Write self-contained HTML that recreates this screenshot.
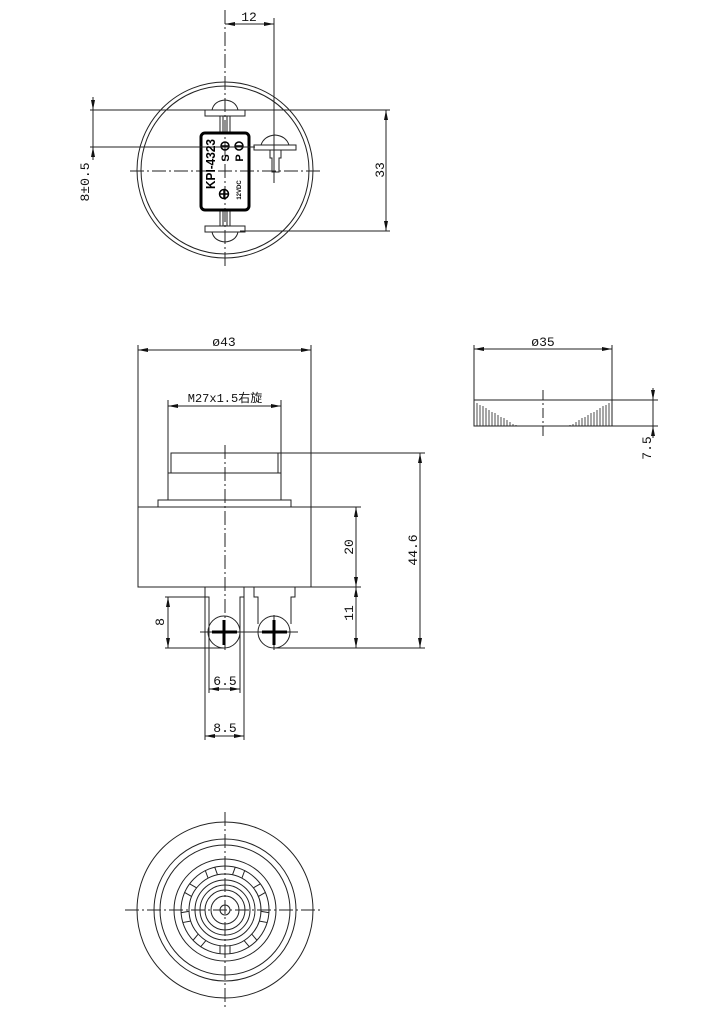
<!DOCTYPE html>
<html><head><meta charset="utf-8"><style>
html,body{margin:0;padding:0;background:#fff}
svg{display:block}
text{font-family:"Liberation Mono","Noto Sans CJK SC",monospace;fill:#111}
text.s{font-family:"Liberation Sans",sans-serif;font-weight:bold;fill:#000}
</style></head><body>
<svg width="724" height="1024" viewBox="0 0 724 1024" xmlns="http://www.w3.org/2000/svg">
<defs>
<marker id="a" viewBox="0 0 10 4" refX="10" refY="2" markerWidth="10" markerHeight="4" orient="auto-start-reverse" markerUnits="userSpaceOnUse"><path d="M0,0 L10,2 L0,4z" fill="#111"/></marker>
</defs>
<g fill="none" stroke="#222" stroke-width="1">
<circle cx="225" cy="170" r="88"/>
<circle cx="225" cy="170" r="84"/>
<line x1="225" y1="10" x2="225" y2="268" stroke-dasharray="14 3 2 3"/>
<line x1="130" y1="171" x2="320" y2="171" stroke-dasharray="14 3 2 3"/>
<path d="M205,110 L245,110 L245,116 L205,116 Z"/>
<path d="M212,110 Q214,101 225,100 Q236,101 238,110"/>
<path d="M220,116 V133 M223,116 V133 M227,116 V133 M230,116 V133"/>
<path d="M205,226 L245,226 L245,232 L205,232 Z"/>
<path d="M212,232 Q214,241 225,242 Q236,241 238,232"/>
<path d="M220,210 V226 M223,210 V226 M227,210 V226 M230,210 V226"/>
<path d="M254,145 L296,145 L296,150 L254,150 Z"/>
<path d="M261,145 Q264,136 275,135 Q286,136 289,145"/>
<path d="M270,150 L270,158 L272,158 L272,172 L279,172 L279,158 L281,158 L281,150"/>
<line x1="274" y1="18" x2="274" y2="183"/>
<rect x="201" y="133" width="48" height="77" rx="4" stroke="#000" stroke-width="3"/>
<g stroke="#000" stroke-width="1.5">
<circle cx="225" cy="146" r="4"/><line x1="221" y1="146" x2="229" y2="146"/>
<circle cx="239" cy="146" r="4"/><line x1="235" y1="146" x2="243" y2="146"/>
<circle cx="224" cy="194" r="4.5"/><line x1="219.5" y1="194" x2="228.5" y2="194"/><line x1="224" y1="189.5" x2="224" y2="198.5"/>
</g>
<line x1="225" y1="24" x2="274" y2="24" marker-start="url(#a)" marker-end="url(#a)"/>
<line x1="90" y1="110" x2="390" y2="110"/>
<line x1="240" y1="231" x2="390" y2="231"/>
<line x1="386" y1="110" x2="386" y2="231" marker-start="url(#a)" marker-end="url(#a)"/>
<line x1="90" y1="147" x2="255" y2="147"/>
<line x1="93" y1="97" x2="93" y2="110" marker-end="url(#a)"/>
<line x1="93" y1="160" x2="93" y2="147" marker-end="url(#a)"/>
<line x1="93" y1="110" x2="93" y2="147"/>

<line x1="138" y1="345" x2="138" y2="507"/>
<line x1="311" y1="345" x2="311" y2="507"/>
<line x1="138" y1="350" x2="311" y2="350" marker-start="url(#a)" marker-end="url(#a)"/>
<line x1="168" y1="400" x2="168" y2="473"/>
<line x1="281" y1="400" x2="281" y2="473"/>
<line x1="168" y1="406" x2="281" y2="406" marker-start="url(#a)" marker-end="url(#a)"/>
<rect x="171" y="453" width="107" height="20"/>
<rect x="168" y="473" width="113" height="27"/>
<rect x="158" y="500" width="133" height="7"/>
<rect x="138" y="507" width="173" height="80"/>
<path d="M205,587 V597 H209 V624 M244,587 V597 H240 V624"/>
<path d="M254,587 V597 H258 V624 M295,587 V597 H291 V624"/>
<circle cx="224" cy="632" r="16"/>
<circle cx="274" cy="632" r="16"/>
<line x1="200" y1="632" x2="298" y2="632"/>
<line x1="225" y1="445" x2="225" y2="650" stroke-dasharray="14 3 2 3"/>
<line x1="274" y1="615" x2="274" y2="650"/>
<g stroke="#000" stroke-width="3">
<line x1="212" y1="632" x2="237" y2="632"/><line x1="224" y1="620" x2="224" y2="645"/>
<line x1="262" y1="632" x2="287" y2="632"/><line x1="274" y1="620" x2="274" y2="645"/>
</g>
<line x1="278" y1="453" x2="425" y2="453"/>
<line x1="275" y1="648" x2="425" y2="648"/>
<line x1="420" y1="453" x2="420" y2="648" marker-start="url(#a)" marker-end="url(#a)"/>
<line x1="311" y1="507" x2="361" y2="507"/>
<line x1="311" y1="587" x2="361" y2="587"/>
<line x1="356" y1="507" x2="356" y2="587" marker-start="url(#a)" marker-end="url(#a)"/>
<line x1="356" y1="587" x2="356" y2="648" marker-start="url(#a)" marker-end="url(#a)"/>
<line x1="165" y1="597" x2="205" y2="597"/>
<line x1="165" y1="648" x2="225" y2="648"/>
<line x1="168" y1="597" x2="168" y2="648" marker-start="url(#a)" marker-end="url(#a)"/>
<line x1="209" y1="624" x2="209" y2="693"/>
<line x1="240" y1="624" x2="240" y2="693"/>
<line x1="209" y1="689" x2="240" y2="689" marker-start="url(#a)" marker-end="url(#a)"/>
<line x1="205" y1="597" x2="205" y2="740"/>
<line x1="244" y1="597" x2="244" y2="740"/>
<line x1="205" y1="736" x2="244" y2="736" marker-start="url(#a)" marker-end="url(#a)"/>

<line x1="474" y1="345" x2="474" y2="400"/>
<line x1="612" y1="345" x2="612" y2="400"/>
<line x1="474" y1="349" x2="612" y2="349" marker-start="url(#a)" marker-end="url(#a)"/>
<rect x="474" y="400" width="138" height="26"/>
<line x1="612" y1="400" x2="658" y2="400"/>
<line x1="612" y1="426" x2="658" y2="426"/>
<line x1="653" y1="388" x2="653" y2="400" marker-end="url(#a)"/>
<line x1="653" y1="438" x2="653" y2="426" marker-end="url(#a)"/>
<line x1="653" y1="400" x2="653" y2="426"/>
<line x1="543" y1="390" x2="543" y2="437" stroke-dasharray="10 3 2 3"/>
<g stroke-width="0.8">
<path d="M477,403V426M480,405V426M483,406V426M486,408V426M489,410V426M492,412V426M495,413V426M498,415V426M501,417V426M504,418V426M507,420V426M510,422V426M513,424V426M516,425V426"/>
<path d="M609,403V426M606,405V426M603,406V426M600,408V426M597,410V426M594,412V426M591,413V426M588,415V426M585,417V426M582,418V426M579,420V426M576,422V426M573,424V426M570,425V426"/>
</g>

<circle cx="225" cy="910" r="88"/>
<circle cx="225" cy="910" r="71"/>
<circle cx="225" cy="910" r="65"/>
<circle cx="225" cy="910" r="51"/>
<circle cx="225" cy="910" r="44"/>
<circle cx="225" cy="910" r="36"/>
<circle cx="225" cy="910" r="30"/>
<circle cx="225" cy="910" r="25"/>
<circle cx="225" cy="910" r="20"/>
<circle cx="225" cy="910" r="14"/>
<circle cx="225" cy="910" r="5"/>
<g transform="translate(225 910)">
<path d="M-5,-36V-44M5,-36V-44" transform="rotate(-20)"/>
<path d="M-5,-36V-44M5,-36V-44" transform="rotate(20)"/>
<path d="M-5,-36V-44M5,-36V-44" transform="rotate(60)"/>
<path d="M-5,-36V-44M5,-36V-44" transform="rotate(-60)"/>
<path d="M-5,-36V-44M5,-36V-44" transform="rotate(100)"/>
<path d="M-5,-36V-44M5,-36V-44" transform="rotate(-100)"/>
<path d="M-5,-36V-44M5,-36V-44" transform="rotate(140)"/>
<path d="M-5,-36V-44M5,-36V-44" transform="rotate(-140)"/>
<path d="M-5,-36V-44M5,-36V-44" transform="rotate(180)"/>
</g>
<line x1="125" y1="910" x2="323" y2="910" stroke-dasharray="14 3 2 3"/>
<line x1="225" y1="812" x2="225" y2="1010" stroke-dasharray="14 3 2 3"/>
</g>

<g font-size="13">
<text x="249" y="21" text-anchor="middle">12</text>
<text transform="translate(384 170) rotate(-90)" text-anchor="middle">33</text>
<text transform="translate(89 182) rotate(-90)" text-anchor="middle">8±0.5</text>
<text x="224" y="346" text-anchor="middle">ø43</text>
<text x="225" y="402" text-anchor="middle" font-size="12">M27x1.5右旋</text>
<text transform="translate(417 550) rotate(-90)" text-anchor="middle">44.6</text>
<text transform="translate(353 547) rotate(-90)" text-anchor="middle">20</text>
<text transform="translate(353 613) rotate(-90)" text-anchor="middle">11</text>
<text transform="translate(164 622) rotate(-90)" text-anchor="middle">8</text>
<text x="225" y="685" text-anchor="middle">6.5</text>
<text x="225" y="732" text-anchor="middle">8.5</text>
<text x="543" y="346" text-anchor="middle">ø35</text>
<text transform="translate(651 448) rotate(-90)" text-anchor="middle">7.5</text>
</g>
<text class="s" transform="translate(215 164) rotate(-90)" text-anchor="middle" font-size="13" textLength="50" lengthAdjust="spacingAndGlyphs">KPI-4323</text>
<text class="s" transform="translate(229 158) rotate(-90)" text-anchor="middle" font-size="11">S</text>
<text class="s" transform="translate(243 158) rotate(-90)" text-anchor="middle" font-size="11">P</text>
<text class="s" transform="translate(241 190) rotate(-90)" text-anchor="middle" font-size="6">12VDC</text>
</svg>
</body></html>
